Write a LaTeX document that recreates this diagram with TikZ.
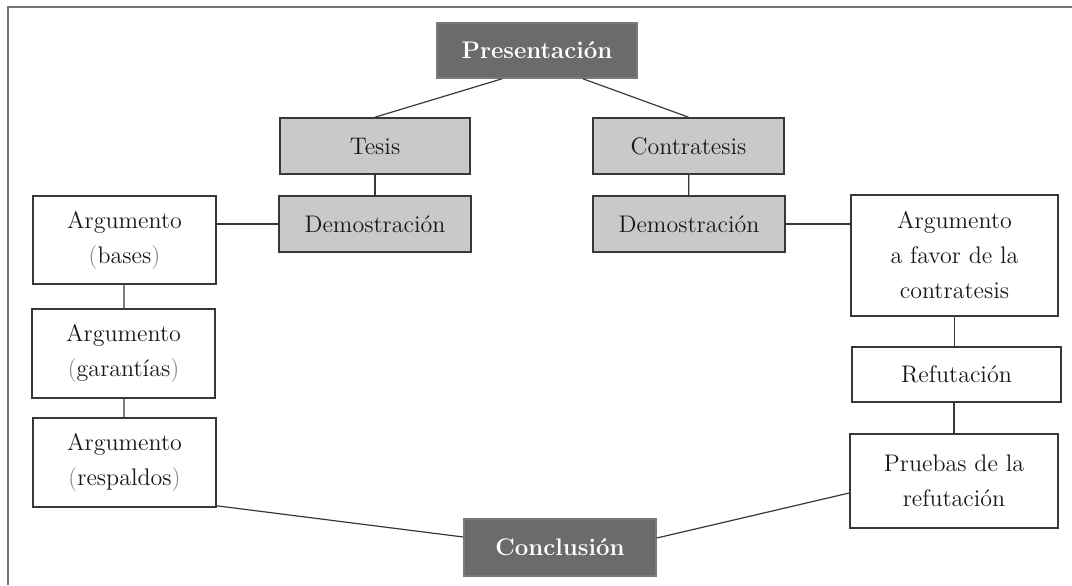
\documentclass[tikz,border=0pt]{standalone}
\usepackage{tikz}
\usetikzlibrary{
	positioning,
	calc
}
\colorlet{dc}{black!58!white}
\colorlet{lc}{black!21!white}
\colorlet{bc}{black!78!white}
\colorlet{tc}{black!90!white}
\colorlet{pc}{black!45!white}
\tikzset{
	every picture/.style={
		line width=.5pt,
		draw=bc,
	},
}
\tikzstyle{box} = [
	rectangle,
	draw=bc,
	line width=.8pt,
	inner sep=0mm,
	align=center,
	text=tc,
	font=\fontsize{12}{17.5}\selectfont
]
\tikzstyle{dark} = [box, fill=dc, draw=dc!90!white, text=white, font=\fontsize{12}{17.5}\selectfont\bfseries]
\tikzstyle{light} = [box, fill=lc]
\tikzstyle{link} = [line width=.6pt, draw=bc]
\newcommand{\pp}[1]{\textcolor{pc}{(}#1\textcolor{pc}{)}}

\begin{document}
\begin{tikzpicture}[x=.5pt, y=-.5pt]
	\useasboundingbox (0, 0) rectangle (1072, 585);
	\draw[line width=1pt, draw=black!55!white] (8, 585) -- (8, 7) -- (1072, 7);

	% top and middle
	\node[dark, minimum width=100pt, minimum height=27.5pt] (pres) at (537, 50.5) {Presentaci\'on};
	\node[light, minimum width=95pt, minimum height=28pt] (tesis) at (375, 146) {Tesis};
	\node[light, minimum width=95.5pt, minimum height=28pt] (contra) at (688.5, 146) {Contratesis};
	\node[light, minimum width=96pt, minimum height=28pt] (demL) at (375, 224) {Demostraci\'on};
	\node[light, minimum width=96pt, minimum height=28pt] (demR) at (689, 224) {Demostraci\'on};

	% left column
	\node[box, minimum width=91.5pt, minimum height=44pt] (base) at (124.5, 240) {Argumento\\\pp{bases}};
	\node[box, minimum width=91.5pt, minimum height=44.5pt] (garant) at (123.5, 353.5) {Argumento\\\pp{garant\'ias}};
	\node[box, minimum width=91.5pt, minimum height=44.5pt] (respal) at (124.5, 462.5) {Argumento\\\pp{respaldos}};

	% right column
	\node[box, minimum width=103.5pt, minimum height=60.5pt] (favor) at (954.5, 255.5) {Argumento\\a favor de la\\contratesis};
	\node[box, minimum width=104.5pt, minimum height=27.5pt] (refut) at (956.5, 374.5) {Refutaci\'on};
	\node[box, minimum width=104pt, minimum height=47pt] (pruebas) at (954, 481) {Pruebas de la\\refutaci\'on};

	\node[dark, minimum width=96pt, minimum height=28.5pt] (concl) at (560, 547.5) {Conclusi\'on};

	\draw[link] ([xshift=-17.5pt]pres.south) -- (tesis.north);
	\draw[link] ([xshift=23pt]pres.south) -- (contra.north);
	\draw[link] (tesis) -- (demL);
	\draw[link] (contra) -- (demR);
	\draw[link] (demL.west) -- (demL.west -| base.east);
	\draw[link] (demR.east) -- (demR.east -| favor.west);
	\draw[link] (base) -- (garant);
	\draw[link] (garant) -- (respal);
	\draw[link] (favor.south) -- (favor.south |- refut.north);
	\draw[link] (pruebas.north |- refut.south) -- (pruebas.north);
	\draw[link] ([yshift=1pt]respal.south east) -- ([yshift=5.25pt]concl.west);
	\draw[link] ([yshift=4.75pt]concl.east) -- ([yshift=-6pt]pruebas.west);
\end{tikzpicture}
\end{document}
